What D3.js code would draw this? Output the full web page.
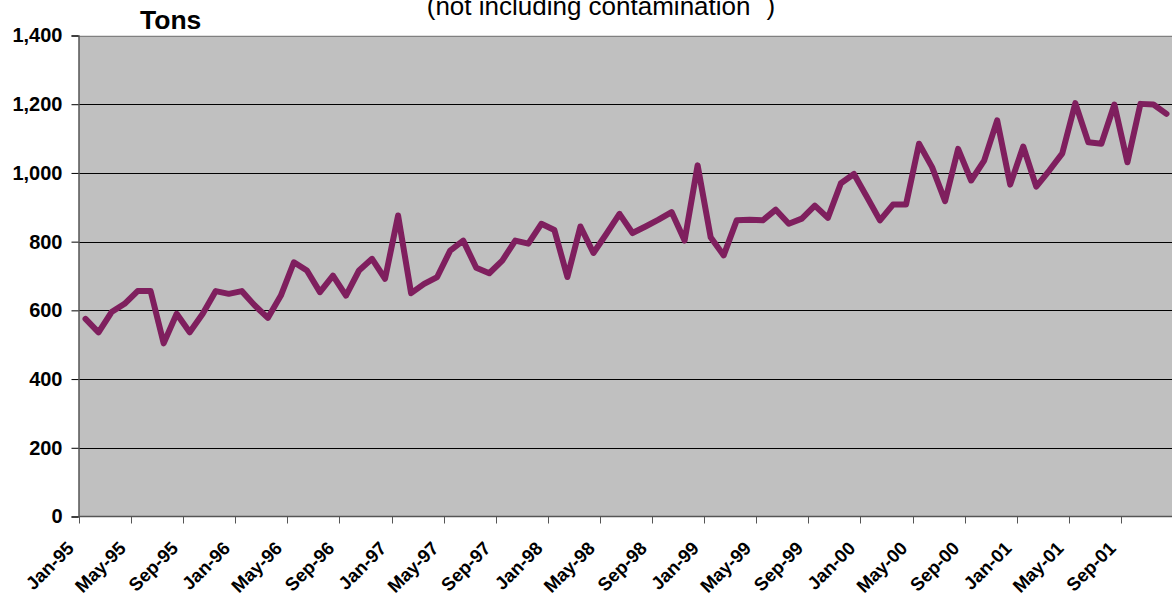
<!DOCTYPE html>
<html>
<head>
<meta charset="utf-8">
<script src="https://cdn.jsdelivr.net/npm/d3@7"></script>
<style>
  html, body { margin: 0; padding: 0; background: #ffffff; }
  svg { display: block; }
  text { font-family: Arial, "Liberation Sans", Helvetica, sans-serif; fill: #000; }
</style>
</head>
<body>
<svg id="chart" width="1172" height="600"></svg>
<script>
// ---- Data ----
const months = [
  "Jan-95","Feb-95","Mar-95","Apr-95","May-95","Jun-95","Jul-95","Aug-95","Sep-95","Oct-95","Nov-95","Dec-95",
  "Jan-96","Feb-96","Mar-96","Apr-96","May-96","Jun-96","Jul-96","Aug-96","Sep-96","Oct-96","Nov-96","Dec-96",
  "Jan-97","Feb-97","Mar-97","Apr-97","May-97","Jun-97","Jul-97","Aug-97","Sep-97","Oct-97","Nov-97","Dec-97",
  "Jan-98","Feb-98","Mar-98","Apr-98","May-98","Jun-98","Jul-98","Aug-98","Sep-98","Oct-98","Nov-98","Dec-98",
  "Jan-99","Feb-99","Mar-99","Apr-99","May-99","Jun-99","Jul-99","Aug-99","Sep-99","Oct-99","Nov-99","Dec-99",
  "Jan-00","Feb-00","Mar-00","Apr-00","May-00","Jun-00","Jul-00","Aug-00","Sep-00","Oct-00","Nov-00","Dec-00",
  "Jan-01","Feb-01","Mar-01","Apr-01","May-01","Jun-01","Jul-01","Aug-01","Sep-01","Oct-01","Nov-01","Dec-01"
];
const tons = [
  575, 536, 595, 619, 656, 656, 504, 590, 536, 590, 656, 648,
  656, 614, 578, 643, 740, 716, 653, 701, 643, 716, 750, 692,
  876, 650, 677, 697, 774, 803, 724, 708, 745, 803, 794, 852,
  834, 697, 844, 767, 823, 881, 825, 844, 864, 886, 803, 1022,
  813, 760, 862, 864, 862, 893, 852, 867, 905, 869, 970, 997,
  930, 862, 908, 908, 1085, 1017, 918, 1070, 978, 1036, 1153, 966,
  1077, 960, 1007, 1057, 1203, 1089, 1085, 1199, 1031, 1201, 1199, 1172
];
const xTickLabels = ["Jan-95","May-95","Sep-95","Jan-96","May-96","Sep-96","Jan-97","May-97","Sep-97",
  "Jan-98","May-98","Sep-98","Jan-99","May-99","Sep-99","Jan-00","May-00","Sep-00","Jan-01","May-01","Sep-01"];
const yTicks = [0, 200, 400, 600, 800, 1000, 1200, 1400];
const titleText = "(not including contamination";
const yTitle = "Tons";

// ---- Layout ----
const svg = d3.select("#chart");
const pLeft = 79, pRight = 1173, pTop = 35.5, pBottom = 516.5;

const x = d3.scaleBand().domain(months).range([pLeft, pRight]).paddingInner(0).paddingOuter(0);
const y = d3.scaleLinear().domain([0, 1400]).range([pBottom, pTop]);

// Plot background
svg.append("rect")
  .attr("x", pLeft).attr("y", pTop)
  .attr("width", pRight - pLeft).attr("height", pBottom - pTop)
  .attr("fill", "#c0c0c0");

// Gridlines
svg.append("g")
  .selectAll("line")
  .data(yTicks.filter(d => d > 0))
  .join("line")
  .attr("x1", pLeft).attr("x2", pRight)
  .attr("y1", d => Math.round(y(d)) + 0.5).attr("y2", d => Math.round(y(d)) + 0.5)
  .attr("stroke", d => d === 1400 ? "#808080" : "#000")
  .attr("stroke-width", 1);

// Y axis
const yAxis = svg.append("g")
  .attr("transform", `translate(${pLeft - 0.5},0)`)
  .call(d3.axisLeft(y).tickValues(yTicks).tickSize(7).tickPadding(9)
    .tickFormat(d3.format(",")));
yAxis.select(".domain").attr("stroke", "#555").attr("stroke-width", 1.5);
yAxis.selectAll(".tick line").attr("stroke", "#000");
yAxis.selectAll(".tick text")
  .style("font-family", "Arial, 'Liberation Sans', sans-serif")
  .style("font-weight", "bold").style("font-size", "20px").attr("fill", "#000");

// X axis (ticks at category boundaries)
const tickIdx = xTickLabels.map(l => months.indexOf(l));
const xAxisG = svg.append("g").attr("transform", `translate(0,${pBottom})`);
xAxisG.append("line")
  .attr("x1", pLeft).attr("x2", pRight).attr("y1", 0).attr("y2", 0)
  .attr("stroke", "#555").attr("stroke-width", 1.5);
xAxisG.selectAll("line.tick")
  .data(tickIdx)
  .join("line")
  .attr("class", "tick")
  .attr("x1", i => Math.round(x(months[i])) + 0.5)
  .attr("x2", i => Math.round(x(months[i])) + 0.5)
  .attr("y1", 0).attr("y2", 7)
  .attr("stroke", "#555").attr("stroke-width", 1);
xAxisG.selectAll("text")
  .data(tickIdx)
  .join("text")
  .attr("text-anchor", "end")
  .attr("transform", i => `translate(${x(months[i]) - 4},${33}) rotate(-45)`)
  .style("font-weight", "bold").style("font-size", "18.5px")
  .text(i => months[i]);

// Line
const line = d3.line()
  .x((d, i) => x(months[i]) + x.bandwidth() / 2)
  .y(d => y(d));
svg.append("path")
  .datum(tons)
  .attr("d", line)
  .attr("fill", "none")
  .attr("stroke", "#7f1f5e")
  .attr("stroke-width", 6)
  .attr("stroke-linejoin", "round")
  .attr("stroke-linecap", "round");

// Titles
const t = svg.append("text")
  .attr("x", 601).attr("y", 15)
  .attr("text-anchor", "middle")
  .style("font-size", "26px");
t.append("tspan").text(titleText);
t.append("tspan").attr("dx", 6).attr("dy", -18).text("*");
t.append("tspan").attr("dy", 18).text(")");

svg.append("text")
  .attr("x", 140).attr("y", 29)
  .style("font-weight", "bold").style("font-size", "26.5px")
  .text(yTitle);
</script>
</body>
</html>
